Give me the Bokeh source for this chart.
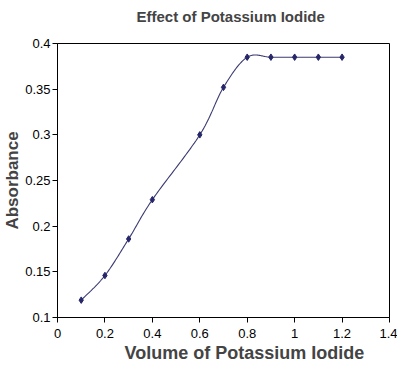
import numpy as np
from bokeh.plotting import figure
from bokeh.models import Title, FixedTicker, Range1d
from bokeh.embed import file_html
from bokeh.resources import INLINE

# Data
volume = [0.1, 0.2, 0.3, 0.4, 0.6, 0.7, 0.8, 0.9, 1.0, 1.1, 1.2]
absorbance = [0.119, 0.146, 0.186, 0.229, 0.300, 0.352, 0.385, 0.385, 0.385, 0.385, 0.385]
x_ticks = [0, 0.2, 0.4, 0.6, 0.8, 1.0, 1.2, 1.4]
y_ticks = [0.1, 0.15, 0.2, 0.25, 0.3, 0.35, 0.4]

title_text = "Effect of Potassium Iodide"
x_label = "Volume of Potassium Iodide"
y_label = "Absorbance"

# Excel-like smoothed line (Bezier through the points, Catmull-Rom control points)
def smooth(xs, ys, n=30):
    xs = np.asarray(xs, float)
    ys = np.asarray(ys, float)
    px = np.concatenate([[xs[0]], xs, [xs[-1]]])
    py = np.concatenate([[ys[0]], ys, [ys[-1]]])
    ox, oy = [], []
    for i in range(1, len(px) - 2):
        p0, p1, p2, p3 = (px[i-1], py[i-1]), (px[i], py[i]), (px[i+1], py[i+1]), (px[i+2], py[i+2])
        c1 = (p1[0] + (p2[0] - p0[0]) / 6, p1[1] + (p2[1] - p0[1]) / 6)
        c2 = (p2[0] - (p3[0] - p1[0]) / 6, p2[1] - (p3[1] - p1[1]) / 6)
        t = np.linspace(0, 1, n)
        bx = (1-t)**3*p1[0] + 3*(1-t)**2*t*c1[0] + 3*(1-t)*t**2*c2[0] + t**3*p2[0]
        by = (1-t)**3*p1[1] + 3*(1-t)**2*t*c1[1] + 3*(1-t)*t**2*c2[1] + t**3*p2[1]
        ox.extend(bx); oy.extend(by)
    return ox, oy

sx, sy = smooth(volume, absorbance)

FONT = "Liberation Sans"
NAVY = "#26266A"

p = figure(width=397, height=362, output_backend="svg",
           toolbar_location=None, x_range=Range1d(0, 1.4), y_range=Range1d(0.1, 0.4),
           min_border_left=57, min_border_right=8, min_border_top=42, min_border_bottom=44,
           background_fill_color="white", border_fill_color="white")

p.line(sx, sy, line_color="#3A3A72", line_width=1.1)
p.scatter(volume, absorbance, marker="diamond", size=6.5, fill_color=NAVY, line_color=NAVY)

p.xgrid.visible = False
p.ygrid.visible = False
p.outline_line_color = "black"
p.outline_line_width = 1

for ax in (p.xaxis[0], p.yaxis[0]):
    ax.major_label_text_font = FONT
    ax.major_label_text_font_size = "13px"
    ax.major_label_text_color = "black"
    ax.axis_line_color = "black"
    ax.major_tick_line_color = "black"
    ax.major_tick_out = 5
    ax.major_tick_in = 0
    ax.minor_tick_line_color = None

p.xaxis.ticker = FixedTicker(ticks=x_ticks)
p.yaxis.ticker = FixedTicker(ticks=y_ticks)
p.xaxis.major_label_overrides = {0: "0", 1.0: "1", 0.2: "0.2", 0.4: "0.4", 0.6: "0.6", 0.8: "0.8", 1.2: "1.2", 1.4: "1.4"}
p.xaxis.major_label_standoff = 6
p.yaxis.major_label_standoff = 2

p.yaxis.axis_label = y_label
p.yaxis.axis_label_text_font = FONT
p.yaxis.axis_label_text_font_style = "bold"
p.yaxis.axis_label_text_font_size = "17px"
p.yaxis.axis_label_standoff = 0

p.add_layout(Title(text=x_label, align="left", offset=67, text_font=FONT,
                   text_font_style="bold", text_font_size="18px", standoff=0), "below")
# thin spacer between frame and chart title
p.add_layout(Title(text=" ", text_font_size="2px"), "above")
p.add_layout(Title(text=title_text, align="left", offset=79,
                   text_font=FONT, text_font_style="bold", text_font_size="15px"), "above")

open("out.html", "w").write(file_html(p, INLINE))
